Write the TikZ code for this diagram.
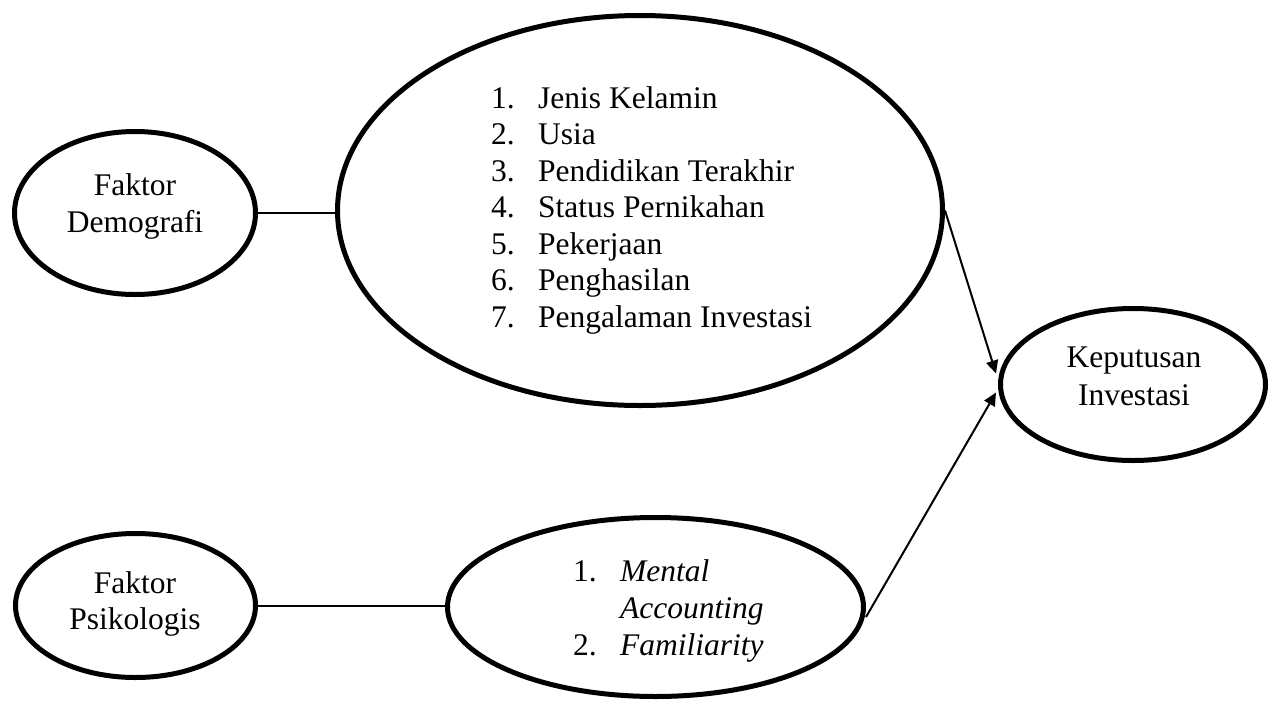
\documentclass[tikz,border=0pt]{standalone}
\usepackage{fontspec}
\setmainfont{Liberation Serif}
\usetikzlibrary{shapes.geometric,arrows.meta,calc}
\begin{document}
\begin{tikzpicture}[x=1pt,y=-1pt,
  oval/.style={draw,ellipse,line width=5pt,inner sep=0pt},
  lbl/.style={font=\fontsize{31.5}{37}\selectfont,inner sep=0pt},
  conn/.style={line width=2pt},
  arr/.style={line width=2pt,-{Triangle[length=13pt,width=12pt]}}]
\useasboundingbox (0,0) rectangle (1278,702);
% ellipses
\node[oval,minimum width=241pt,minimum height=163pt] (demo) at (135,213) {};
\node[oval,minimum width=605pt,minimum height=390pt] (big) at (640,210.5) {};
\node[oval,minimum width=240pt,minimum height=144pt] (psy) at (135.5,605.5) {};
\node[oval,minimum width=416pt,minimum height=179pt] (small) at (655.5,607) {};
\node[oval,minimum width=265pt,minimum height=152pt] (kep) at (1133,384.5) {};
% texts
\node[lbl,anchor=base] (demoA) at (135,195) {Faktor};
\node[lbl,anchor=base] (demoB) at (135,232) {Demografi};
\node[lbl,anchor=base] (psyA) at (135,593) {Faktor};
\node[lbl,anchor=base] (psyB) at (135,629) {Psikologis};
\node[lbl,anchor=base] (kepA) at (1134,367) {Keputusan};
\node[lbl,anchor=base] (kepB) at (1134,405) {Investasi};
\foreach \i/\t in {1/Jenis Kelamin,2/Usia,3/Pendidikan Terakhir,4/Status Pernikahan,5/Pekerjaan,6/Penghasilan,7/Pengalaman Investasi}{
  \pgfmathsetmacro{\yy}{108+36.5*(\i-1)}
  \node[lbl,anchor=base west] (num\i) at (491,\yy) {\i.};
  \node[lbl,anchor=base west] (item\i) at (538,\yy) {\t};
}
\node[lbl,anchor=base west] (pn1) at (573,581) {1.};
\node[lbl,anchor=base west] (pt1) at (620,581) {\itshape Mental};
\node[lbl,anchor=base west] (pt1b) at (620,618) {\itshape Accounting};
\node[lbl,anchor=base west] (pn2) at (573,655) {2.};
\node[lbl,anchor=base west] (pt2) at (620,655) {\itshape Familiarity};
% connectors
\draw[conn] (demo.east) -- (demo.east -| big.west);
\draw[conn] (psy.east) -- (psy.east -| small.west);
\coordinate (tipA) at ($(kep.west)+(-2,-11)$);
\coordinate (tipB) at ($(kep.west)+(-2,8)$);
\coordinate (startB) at ($(small.east)+(0,10)$);
\draw[arr] (big.east) -- (tipA);
\draw[arr] (startB) -- (tipB);
\end{tikzpicture}
\end{document}
